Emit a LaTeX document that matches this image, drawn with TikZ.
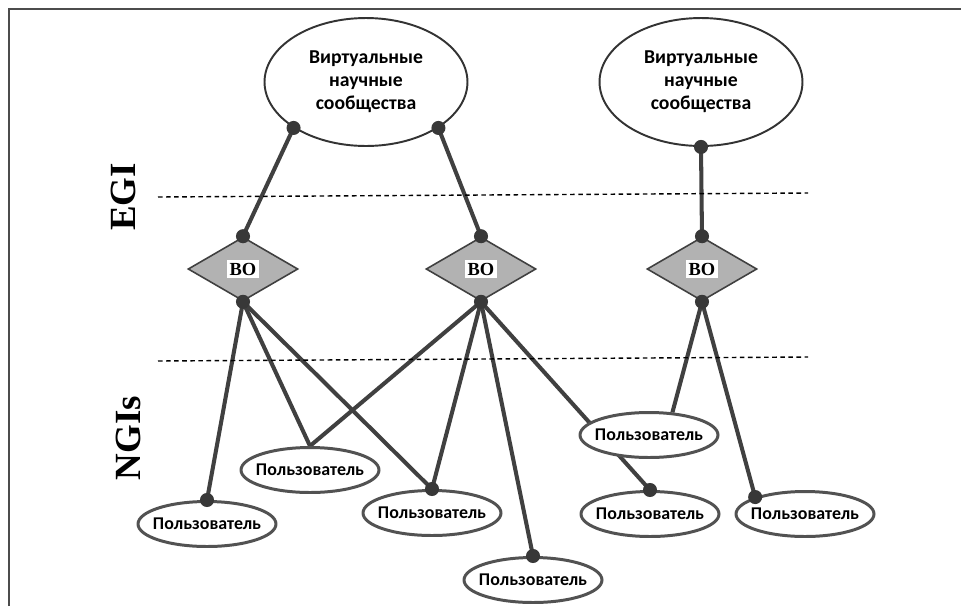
\documentclass[tikz,border=0pt]{standalone}
\usepackage{fontspec}
\setmainfont{Liberation Serif}
\newfontfamily\carlito{Carlito}
\usetikzlibrary{shapes.geometric}
\usetikzlibrary{backgrounds}

\tikzset{
  vsoc/.style={ellipse, draw=black!80, line width=1.1pt, minimum width=4.06cm, minimum height=2.56cm,
    inner sep=0pt, align=center, font=\carlito\bfseries\fontsize{11.2}{13.2}\selectfont},
  user/.style={ellipse, draw=black!68, line width=1.7pt, fill=white, minimum width=2.76cm,
    minimum height=0.9cm, inner xsep=-8pt, inner ysep=0pt, font=\carlito\bfseries\fontsize{10.2}{12}\selectfont},
  vo/.style={diamond, draw=black!75, line width=0.9pt, fill=black!30, minimum width=2.2cm,
    minimum height=1.28cm, inner sep=0pt,
    label={[fill=white, inner sep=1.5pt, font=\bfseries\fontsize{10.5}{12}\selectfont]center:BO}},
  link/.style={draw=black!75, line width=2.3pt},
  dotc/.style={fill=black!78},
  layer/.style={black, line width=0.8pt, dash pattern=on 2.6pt off 2pt},
  side/.style={rotate=90, font=\bfseries\fontsize{21}{24}\selectfont}
}

\begin{document}
\begin{tikzpicture}[x=0.02cm, y=-0.02cm]
  \useasboundingbox (0,0) rectangle (961,606);
  \draw[black!70, line width=0.7pt] (9,606) -- (9,9) -- (961,9);

  \draw[layer] (158,197) -- (808,193);
  \draw[layer] (158,361) -- (808,357);
  \node[side] (egi) at (123,197) {EGI};
  \node[side] (ngi) at (128,438) {NGIs};

  \node[vsoc] (vs1) at (366,82) {Виртуальные\\научные\\сообщества};
  \node[vsoc] (vs2) at (701,82) {Виртуальные\\научные\\сообщества};

  \node[vo] (bo1) at (243,269) {};
  \node[vo] (bo2) at (481,269) {};
  \node[vo] (bo3) at (702,269) {};

  \node[user] (u1) at (207,524) {Пользователь};
  \node[user] (u2) at (310,470) {Пользователь};
  \node[user] (u3) at (432,513) {Пользователь};
  \node[user] (u4) at (649,435) {Пользователь};
  \node[user] (u5) at (533,580) {Пользователь};
  \node[user] (u6) at (650,514) {Пользователь};
  \node[user] (u7) at (805,514) {Пользователь};

  \begin{scope}[on background layer]
    \draw[link] (vs1.south west) -- (bo1.north);
    \draw[link] (vs1.south east) -- (bo2.north);
    \draw[link] (vs2.south) -- (bo3.north);
    \draw[link] (bo1.south) -- (u1.north);
    \draw[link] (bo1.south) -- (u2.north);
    \draw[link] (bo1.south) -- (u3.north);
    \draw[link] (bo2.south) -- (u2.north);
    \draw[link] (bo2.south) -- (u3.north);
    \draw[link] (bo2.south) -- (u5.north);
    \draw[link] (bo2.south) -- (u6.north);
    \draw[link] (bo3.south) -- (u4.44);
    \draw[link] (bo3.south) -- (u7.north west);
  \end{scope}

  \foreach \p in {vs1.south west, vs1.south east, vs2.south, bo1.north, bo2.north, bo3.north,
                  bo1.south, bo2.south, bo3.south, u1.north, u3.north, u5.north, u6.north, u7.north west}
    \fill[dotc] (\p) circle (4pt);
\end{tikzpicture}
\end{document}
